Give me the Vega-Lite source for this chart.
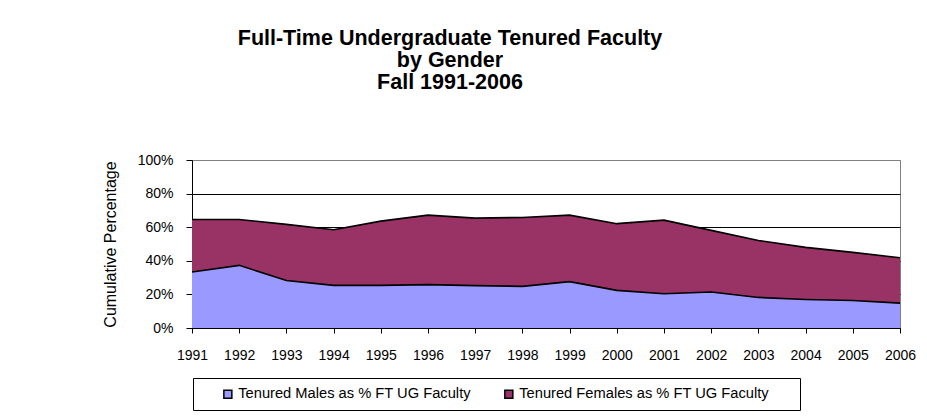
{
  "$schema": "https://vega.github.io/schema/vega-lite/v6.json",
  "autosize": "none",
  "width": 708,
  "height": 168,
  "padding": {"left": 192, "top": 160, "right": 27, "bottom": 89},
  "background": "white",
  "title": {
    "text": ["Full-Time Undergraduate Tenured Faculty", "by Gender", "Fall 1991-2006"],
    "font": "Liberation Sans",
    "fontSize": 21.5,
    "fontWeight": "bold",
    "color": "black",
    "lineHeight": 22,
    "anchor": "middle",
    "dx": -96,
    "offset": 60
  },
  "data": {
    "values": [
      {"year": 1991, "series": "Tenured Males as % FT UG Faculty", "value": 0.333},
      {"year": 1992, "series": "Tenured Males as % FT UG Faculty", "value": 0.373},
      {"year": 1993, "series": "Tenured Males as % FT UG Faculty", "value": 0.283},
      {"year": 1994, "series": "Tenured Males as % FT UG Faculty", "value": 0.254},
      {"year": 1995, "series": "Tenured Males as % FT UG Faculty", "value": 0.254},
      {"year": 1996, "series": "Tenured Males as % FT UG Faculty", "value": 0.258},
      {"year": 1997, "series": "Tenured Males as % FT UG Faculty", "value": 0.252},
      {"year": 1998, "series": "Tenured Males as % FT UG Faculty", "value": 0.248},
      {"year": 1999, "series": "Tenured Males as % FT UG Faculty", "value": 0.276},
      {"year": 2000, "series": "Tenured Males as % FT UG Faculty", "value": 0.224},
      {"year": 2001, "series": "Tenured Males as % FT UG Faculty", "value": 0.204},
      {"year": 2002, "series": "Tenured Males as % FT UG Faculty", "value": 0.214},
      {"year": 2003, "series": "Tenured Males as % FT UG Faculty", "value": 0.182},
      {"year": 2004, "series": "Tenured Males as % FT UG Faculty", "value": 0.170},
      {"year": 2005, "series": "Tenured Males as % FT UG Faculty", "value": 0.164},
      {"year": 2006, "series": "Tenured Males as % FT UG Faculty", "value": 0.148},
      {"year": 1991, "series": "Tenured Females as % FT UG Faculty", "value": 0.313},
      {"year": 1992, "series": "Tenured Females as % FT UG Faculty", "value": 0.273},
      {"year": 1993, "series": "Tenured Females as % FT UG Faculty", "value": 0.334},
      {"year": 1994, "series": "Tenured Females as % FT UG Faculty", "value": 0.331},
      {"year": 1995, "series": "Tenured Females as % FT UG Faculty", "value": 0.382},
      {"year": 1996, "series": "Tenured Females as % FT UG Faculty", "value": 0.414},
      {"year": 1997, "series": "Tenured Females as % FT UG Faculty", "value": 0.402},
      {"year": 1998, "series": "Tenured Females as % FT UG Faculty", "value": 0.410},
      {"year": 1999, "series": "Tenured Females as % FT UG Faculty", "value": 0.396},
      {"year": 2000, "series": "Tenured Females as % FT UG Faculty", "value": 0.397},
      {"year": 2001, "series": "Tenured Females as % FT UG Faculty", "value": 0.438},
      {"year": 2002, "series": "Tenured Females as % FT UG Faculty", "value": 0.367},
      {"year": 2003, "series": "Tenured Females as % FT UG Faculty", "value": 0.339},
      {"year": 2004, "series": "Tenured Females as % FT UG Faculty", "value": 0.310},
      {"year": 2005, "series": "Tenured Females as % FT UG Faculty", "value": 0.286},
      {"year": 2006, "series": "Tenured Females as % FT UG Faculty", "value": 0.270}
    ]
  },
  "encoding": {
    "x": {
      "field": "year",
      "type": "quantitative",
      "scale": {"domain": [1991, 2006], "nice": false, "zero": false},
      "axis": {
        "title": null,
        "values": [1991, 1992, 1993, 1994, 1995, 1996, 1997, 1998, 1999, 2000, 2001, 2002, 2003, 2004, 2005, 2006],
        "format": "d",
        "grid": false,
        "labelFlush": false,
        "labelOverlap": false,
        "tickSize": 5,
        "labelPadding": 15
      }
    },
    "y": {
      "field": "value",
      "type": "quantitative",
      "stack": "zero",
      "scale": {"domain": [0, 1], "nice": false},
      "axis": {
        "title": "Cumulative Percentage",
        "values": [0, 0.2, 0.4, 0.6, 0.8, 1],
        "format": ".0%",
        "grid": true,
        "gridColor": {"condition": {"test": "datum.value >= 1", "value": "#808080"}, "value": "black"},
        "tickSize": 6,
        "labelPadding": 13,
        "titlePadding": 19
      }
    },
    "order": {"field": "series", "sort": "descending"}
  },
  "layer": [
    {
      "mark": {"type": "area", "opacity": 1},
      "encoding": {
        "color": {
          "field": "series",
          "type": "nominal",
          "scale": {
            "domain": ["Tenured Males as % FT UG Faculty", "Tenured Females as % FT UG Faculty"],
            "range": ["#9999FF", "#993366"]
          },
          "legend": {
            "title": "\u00a0",
            "titleOrient": "left",
            "titlePadding": 19,
            "titleFontSize": 14.7,
            "orient": "none",
            "legendX": 1,
            "legendY": 218,
            "direction": "horizontal",
            "symbolType": "square",
            "symbolSize": 64,
            "symbolStrokeColor": "black",
            "symbolStrokeWidth": 1.5,
            "strokeColor": "black",
            "padding": 8.5,
            "columnPadding": 30,
            "labelFontSize": 14.7,
            "labelOffset": 3,
            "labelLimit": 400,
            "labelExpr": "datum.label == 'Tenured Females as % FT UG Faculty' ? datum.label + '\u2800\u2800' : datum.label"
          }
        }
      }
    },
    {
      "mark": {"type": "line", "color": "black", "strokeWidth": 1.6},
      "encoding": {
        "detail": {"field": "series", "type": "nominal"}
      }
    }
  ],
  "config": {
    "font": "Liberation Sans",
    "view": {"stroke": "#808080", "strokeWidth": 1},
    "axis": {
      "labelFont": "Liberation Sans",
      "labelFontSize": 14,
      "labelColor": "black",
      "domainColor": "black",
      "tickColor": "black",
      "gridOpacity": 1,
      "titleFont": "Liberation Sans",
      "titleFontSize": 16,
      "titleFontWeight": "normal",
      "titleColor": "black"
    },
    "legend": {
      "labelFont": "Liberation Sans",
      "labelColor": "black",
      "titleFont": "Liberation Sans"
    }
  }
}
